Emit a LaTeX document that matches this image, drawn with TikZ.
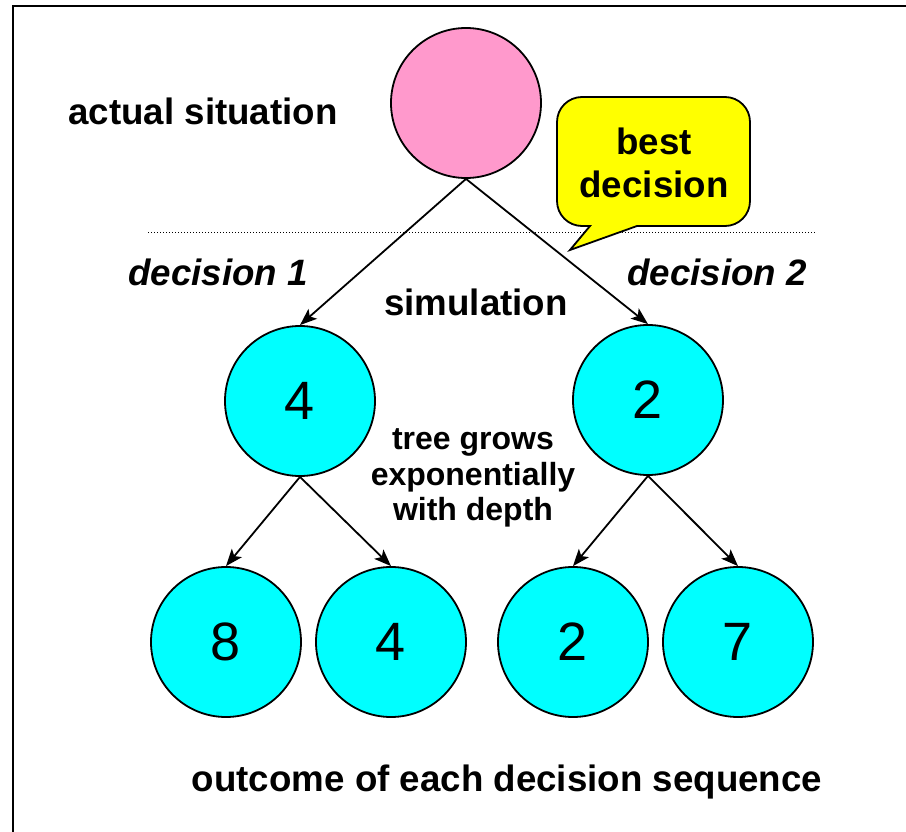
\documentclass[tikz,border=0pt]{standalone}
\usepackage{fontspec}
\setmainfont{Liberation Sans}
\usetikzlibrary{arrows.meta}
\definecolor{aqua}{RGB}{0,255,255}
\definecolor{rosy}{RGB}{255,153,204}
\definecolor{yel}{RGB}{255,255,0}
\begin{document}
\begin{tikzpicture}[x=1pt,y=-1pt,
  bubble/.style={circle,draw=black,line width=1.8pt,minimum size=150pt,inner sep=0pt,fill=aqua,font=\fontsize{54}{54}\selectfont},
  rootbubble/.style={bubble,fill=rosy},
  conn/.style={line width=1.8pt,-{Stealth[length=17pt,width=13pt,inset=4pt]}},
  lbl/.style={font=\bfseries\fontsize{36.7}{43}\selectfont,align=center,inner sep=0pt},
  ilbl/.style={lbl,font=\bfseries\itshape\fontsize{36.7}{43}\selectfont},
  slbl/.style={lbl,font=\bfseries\fontsize{32}{35.5}\selectfont},
  callout/.style={fill=yel,draw=black,line width=1.8pt}]
\useasboundingbox (0,0) rectangle (906,832);
\fill[white] (0,0) rectangle (906,832);
% frame
\draw[line width=2pt] (13,832) -- (13,6) -- (906,6);
% dotted line
\draw[dotted,line width=1pt] (148,233) -- (815,233);
% callout
\draw[callout] (590,226) [rounded corners=25pt] -- (557,226) -- (557,97) -- (750,97) -- (750,226) -- (700,226) [sharp corners] -- (637,226) -- (570,250) -- cycle;
\node[lbl] (best) at (654,163) {best\\decision};
% nodes
\node[rootbubble] (root) at (466,103) {};
\node[bubble] (l) at (300,401) {4};
\node[bubble] (r) at (648,400) {2};
\node[bubble] (ll) at (226,642) {8};
\node[bubble] (lr) at (391,642) {4};
\node[bubble] (rl) at (573,642) {2};
\node[bubble] (rr) at (738,642) {7};
% connectors
\draw[conn] (root.south) -- (l.north);
\draw[conn] (root.south) -- (r.north);
\draw[conn] (l.south) -- (ll.north);
\draw[conn] (l.south) -- (lr.north);
\draw[conn] (r.south) -- (rl.north);
\draw[conn] (r.south) -- (rr.north);
% labels
\node[lbl] (actual) at (203,111) {actual situation};
\node[ilbl] (d1) at (218,272) {decision 1};
\node[ilbl] (d2) at (717,272) {decision 2};
\node[lbl] (sim) at (476,302) {simulation};
\node[slbl] (tree) at (473,478) {tree grows\\exponentially\\with depth};
\node[lbl] (outcome) at (507,782) {outcome of each decision sequence};
\end{tikzpicture}
\end{document}
